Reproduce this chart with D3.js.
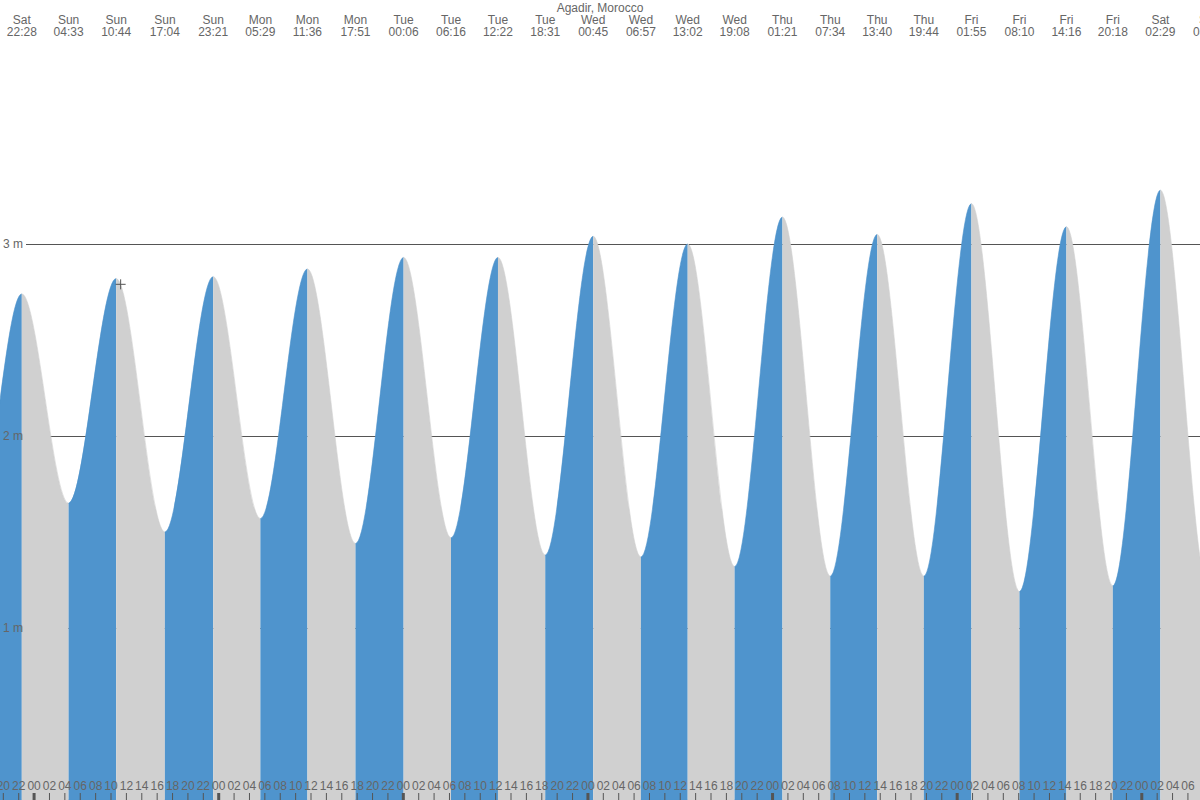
<!DOCTYPE html>
<html>
<head>
<meta charset="utf-8">
<script src="https://cdn.jsdelivr.net/npm/d3@7"></script>
<style>
  html, body { margin: 0; padding: 0; background: #fff; }
  svg { display: block; font-family: "Liberation Sans", Arial, sans-serif; }
</style>
</head>
<body>
<svg id="chart" width="1200" height="800"></svg>
<script>
// ---- data ----
const title = "Agadir, Morocco";
const extremeDays = ["Sat","Sat","Sun","Sun","Sun","Sun","Mon","Mon","Mon","Tue","Tue","Tue","Tue","Wed","Wed","Wed","Wed","Thu","Thu","Thu","Thu","Fri","Fri","Fri","Fri","Sat","Sat"];
const extremeTimes = ["16:18","22:28","04:33","10:44","17:04","23:21","05:29","11:36","17:51","00:06","06:16","12:22","18:31","00:45","06:57","13:02","19:08","01:21","07:34","13:40","19:44","01:55","08:10","14:16","20:18","02:29","08:41"];
const extremeHeights = [1.48,2.74,1.65,2.82,1.50,2.83,1.57,2.87,1.44,2.93,1.47,2.93,1.38,3.04,1.37,3.00,1.32,3.14,1.27,3.05,1.27,3.21,1.19,3.09,1.22,3.28,1.21];
const yTicks = [1, 2, 3];
const viewStart = "Sat 19:38";
const viewEnd = "Sat 07:38";
const markerTime = "Sun 11:19";
const markerHeight = 2.79;

// ---- helpers ----
const W = 1200, H = 800;
const base = Date.UTC(2024, 0, 6); // a Saturday
const dayOrder = ["Sat","Sun","Mon","Tue","Wed","Thu","Fri"];
function toDate(day, time, prev) {
  const [hh, mm] = time.split(":").map(Number);
  let d = dayOrder.indexOf(day);
  let t = base + (d * 24 + hh + mm / 60) * 3600e3;
  while (prev != null && t < prev) t += 7 * 24 * 3600e3;
  return new Date(t);
}
let prevT = null;
const extremes = extremeDays.map((d, i) => {
  const date = toDate(d, extremeTimes[i], prevT);
  prevT = +date;
  return { day: d, time: extremeTimes[i], date, h: extremeHeights[i] };
});
const [sd, st] = viewStart.split(" ");
const [ed, et] = viewEnd.split(" ");
const start = toDate(sd, st, null);
const end = toDate(ed, et, +start);

const x = d3.scaleUtc().domain([start, end]).range([0, W]);
const y = d3.scaleLinear().domain([1, 3]).range([628, 244]);

const svg = d3.select("#chart");
const textColor = "#666";
const lineColor = "#555";
const blue = "#4f94cd";
const grey = "#d0d0d0";

// grid lines (behind the fill)
svg.append("g").selectAll("line").data(yTicks).join("line")
  .attr("x1", 26).attr("x2", W)
  .attr("y1", d => Math.round(y(d)) + 0.5).attr("y2", d => Math.round(y(d)) + 0.5)
  .attr("stroke", lineColor).attr("stroke-width", 1);

// tide area (extremes are turning points: pad ends so the curve is flat there)
const first = extremes[0], last = extremes[extremes.length - 1];
const curvePts = [
  { date: new Date(+first.date - 3600e3), h: first.h },
  ...extremes,
  { date: new Date(+last.date + 3600e3), h: last.h }
];
const area = d3.area()
  .x(d => x(d.date))
  .y0(H)
  .y1(d => y(d.h))
  .curve(d3.curveMonotoneX);
const areaD = area(curvePts);

const defs = svg.append("defs");
const segs = extremes.slice(0, -1).map((e, i) => ({ a: e, b: extremes[i + 1], i }));
defs.selectAll("clipPath").data(segs).join("clipPath")
  .attr("id", d => "seg" + d.i)
  .append("rect")
  .attr("x", d => x(d.a.date))
  .attr("width", d => x(d.b.date) - x(d.a.date))
  .attr("y", 0).attr("height", H);

svg.append("g").selectAll("path").data(segs).join("path")
  .attr("d", areaD)
  .attr("clip-path", d => `url(#seg${d.i})`)
  .attr("fill", d => d.b.h > d.a.h ? blue : grey)
  .attr("stroke", d => d.b.h > d.a.h ? blue : grey)
  .attr("stroke-width", 0.6);

// y labels
svg.append("g").selectAll("text").data(yTicks).join("text")
  .attr("x", 3).attr("y", d => y(d) + 4)
  .attr("font-size", 12).attr("fill", textColor)
  .text(d => d + " m");

// title
svg.append("text").attr("x", W / 2).attr("y", 12)
  .attr("text-anchor", "middle").attr("font-size", 12).attr("fill", textColor)
  .text(title);

// extreme labels
const vis = extremes.filter(e => x(e.date) > -10 && x(e.date) < W + 30);
const lab = svg.append("g").selectAll("g").data(vis).join("g")
  .attr("transform", d => `translate(${x(d.date)},0)`);
lab.append("text").attr("y", 24).attr("text-anchor", "middle")
  .attr("font-size", 12).attr("fill", textColor).text(d => d.day);
lab.append("text").attr("y", 36).attr("text-anchor", "middle")
  .attr("font-size", 12).attr("fill", textColor).text(d => d.time);

// bottom hour axis
const axis = d3.axisTop(x)
  .ticks(d3.utcHour.every(2))
  .tickFormat(d3.utcFormat("%H"))
  .tickSize(7).tickPadding(3);
const ax = svg.append("g").attr("transform", `translate(0,${H})`).call(axis);
ax.select(".domain").remove();
ax.selectAll("text").attr("font-size", 12).attr("fill", textColor)
  .attr("font-family", "Liberation Sans, Arial, sans-serif");
ax.selectAll(".tick line").attr("stroke", lineColor)
  .attr("stroke-width", d => d.getUTCHours() === 0 ? 3 : 1);

// current-time marker
const mt = markerTime.split(" ");
const md = toDate(mt[0], mt[1], +start);
const mx = x(md), my = y(markerHeight);
svg.append("path")
  .attr("d", `M${mx - 5},${my}H${mx + 5}M${mx},${my - 5}V${my + 5}`)
  .attr("stroke", lineColor).attr("stroke-width", 1).attr("fill", "none");
</script>
</body>
</html>
